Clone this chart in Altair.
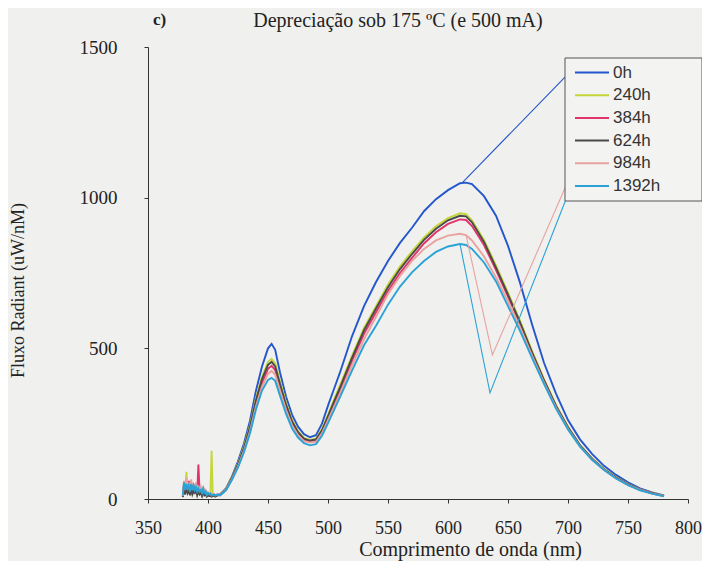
import altair as alt
import pandas as pd

SERIES = ["0h", "240h", "384h", "624h", "984h", "1392h"]
COLORS = ["#2456cc", "#c3d63a", "#e2336b", "#4a4a4a", "#e8a3a0", "#2aa2d6"]

# noisy start of the spectra (1 nm steps)
NOISE_WL = [379, 380, 381, 382, 383, 384, 385, 386, 387, 388, 389, 390, 391, 392, 393,
            394, 395, 396, 397, 398, 399, 400, 401, 402, 403, 404, 405, 406, 407, 408]
NOISE = {
    "0h":    [10, 50, 25, 60, 30, 45, 20, 55, 25, 40, 30, 45, 20, 35, 25, 30, 15, 35, 20, 25, 12, 20, 15, 18, 10, 12, 15, 10, 12, 15],
    "240h":  [8, 40, 20, 90, 25, 35, 15, 40, 20, 30, 25, 35, 15, 25, 20, 25, 12, 20, 15, 18, 10, 15, 12, 14, 160, 10, 12, 8, 10, 12],
    "384h":  [8, 45, 20, 50, 25, 60, 15, 45, 20, 35, 25, 40, 20, 114, 25, 30, 15, 30, 20, 25, 12, 18, 15, 16, 10, 12, 14, 10, 12, 14],
    "624h":  [6, 35, 15, 40, 20, 30, 12, 35, 15, 25, 20, 30, 12, 25, 15, 20, 10, 25, 12, 15, 8, 12, 10, 10, 8, 10, 12, 8, 10, 12],
    "984h":  [10, 60, 30, 70, 35, 55, 25, 65, 30, 50, 35, 55, 25, 45, 30, 40, 20, 40, 25, 30, 15, 22, 18, 20, 12, 15, 16, 12, 14, 16],
    "1392h": [12, 55, 30, 50, 35, 45, 25, 50, 30, 45, 30, 40, 25, 35, 25, 30, 20, 35, 20, 25, 15, 20, 15, 18, 12, 14, 15, 12, 14, 15],
}

MAIN_WL = [410, 415, 420, 425, 430, 435, 440, 445, 450, 453, 456, 460, 465, 470, 475, 480, 485,
           490, 495, 500, 505, 510, 520, 530, 540, 550, 560, 570, 580, 590, 600, 610, 615, 620,
           630, 640, 650, 660, 670, 680, 690, 700, 710, 720, 730, 740, 750, 760, 770, 780]
MAIN = {
    "0h":    [15, 35, 75, 125, 185, 260, 360, 440, 500, 515, 495, 420, 340, 280, 240, 215, 205, 212, 250, 310,
              365, 420, 540, 640, 720, 790, 850, 900, 955, 995, 1025, 1048, 1050, 1045, 1005, 940, 840, 718, 580, 452,
              350, 262, 198, 150, 110, 80, 55, 35, 22, 12],
    "240h":  [14, 33, 72, 118, 175, 245, 335, 405, 455, 465, 450, 390, 320, 262, 225, 203, 196, 200, 232, 280,
              330, 378, 475, 568, 640, 712, 772, 822, 868, 905, 932, 948, 945, 925, 860, 775, 685, 592, 492, 398,
              312, 240, 180, 135, 100, 72, 50, 32, 20, 11],
    "384h":  [13, 31, 68, 112, 165, 232, 318, 385, 432, 442, 428, 372, 305, 252, 218, 197, 192, 195, 224, 270,
              316, 362, 458, 548, 620, 690, 750, 800, 848, 885, 913, 928, 926, 906, 843, 760, 672, 582, 484, 392,
              307, 236, 177, 133, 98, 70, 48, 31, 19, 10],
    "624h":  [13, 32, 70, 115, 170, 240, 328, 398, 445, 455, 440, 382, 313, 258, 222, 200, 194, 198, 228, 275,
              323, 370, 468, 560, 632, 703, 763, 813, 860, 897, 925, 940, 938, 918, 853, 768, 678, 586, 487, 394,
              309, 238, 178, 134, 99, 71, 49, 31, 19, 10],
    "984h":  [12, 30, 66, 108, 160, 225, 308, 372, 415, 425, 412, 360, 296, 245, 212, 192, 187, 190, 218, 262,
              306, 350, 443, 530, 605, 680, 740, 790, 830, 858, 874, 880, 876, 858, 805, 735, 655, 570, 476, 386,
              303, 233, 175, 131, 97, 69, 47, 30, 18, 10],
    "1392h": [12, 29, 64, 105, 155, 218, 298, 360, 395, 402, 392, 343, 283, 235, 204, 185, 178, 182, 210, 252,
              295, 338, 426, 510, 575, 645, 705, 752, 790, 820, 838, 846, 843, 830, 785, 722, 640, 558, 468, 382,
              300, 231, 174, 130, 96, 68, 46, 29, 18, 9],
}

# stray segments running from the curves to the legend
SPUR_WL = {"0h": [612, 706], "984h": [615, 637, 704], "1392h": [610, 635, 703]}
SPUR_VAL = {"0h": [1050, 1435], "984h": [876, 478, 1092], "1392h": [846, 352, 1042]}

X_TICKS = [350, 400, 450, 500, 550, 600, 650, 700, 750, 800]
Y_TICKS = [0, 500, 1000, 1500]

rows = []
for s in SERIES:
    i = 0
    for w, v in zip(NOISE_WL + MAIN_WL, NOISE[s] + MAIN[s]):
        rows.append({"series": s, "wl": w, "val": v, "i": i})
        i += 1
df = pd.DataFrame(rows)

srows = []
for s in SPUR_WL:
    for k, (w, v) in enumerate(zip(SPUR_WL[s], SPUR_VAL[s])):
        srows.append({"series": s, "wl": w, "val": v, "i": k})
sdf = pd.DataFrame(srows)

SERIF = "Liberation Serif"
color_scale = alt.Scale(domain=SERIES, range=COLORS)

x_enc = alt.X("wl:Q", scale=alt.Scale(domain=[350, 800], nice=False),
              axis=alt.Axis(values=X_TICKS, title="Comprimento de onda (nm)", grid=False,
                            labelFont=SERIF, labelFontSize=18, labelColor="#222",
                            titleFont=SERIF, titleFontSize=20, titleFontWeight="normal",
                            titleColor="#222", titleX=322, titleY=40, titleBaseline="top",
                            domainColor="#333", tickColor="#333", tickSize=4,
                            labelPadding=16, labelFlush=False))
y_enc = alt.Y("val:Q", scale=alt.Scale(domain=[0, 1500], nice=False),
              axis=alt.Axis(values=Y_TICKS, format="d", title="Fluxo Radiant (uW/nM)", grid=False,
                            labelFont=SERIF, labelFontSize=19, labelColor="#222",
                            titleFont=SERIF, titleFontSize=18, titleFontWeight="normal",
                            titleColor="#222", titleX=-121, titleY=243,
                            domainColor="#333", tickColor="#333", tickSize=4,
                            labelPadding=27))

legend = alt.Legend(title=None, orient="none", legendX=418, legendY=9,
                    symbolType="stroke", symbolSize=1156, symbolStrokeWidth=2,
                    labelFont="Liberation Sans", labelFontSize=17, labelColor="#333",
                    labelOffset=3, padding=8, rowPadding=4.7, clipHeight=17)

curves = alt.Chart(df).mark_line(strokeWidth=1.9).encode(
    x=x_enc, y=y_enc,
    color=alt.Color("series:N", scale=color_scale, legend=legend),
    order="i:Q",
)

spurs = alt.Chart(sdf).mark_line(strokeWidth=1.1).encode(
    x="wl:Q", y="val:Q",
    color=alt.Color("series:N", scale=color_scale, legend=None),
    order="i:Q",
)

box = alt.Chart(pd.DataFrame({"a": [0]})).mark_rect(
    fill="#f3f3f2", stroke="#555", strokeWidth=1
).encode(x=alt.value(417), x2=alt.value(554), y=alt.value(11), y2=alt.value(154))

lbl = alt.Chart(pd.DataFrame({"t": ["c)"]})).mark_text(
    font=SERIF, fontSize=17, fontWeight="bold", align="left", baseline="alphabetic", color="#222"
).encode(text="t:N", x=alt.value(5), y=alt.value(-22))

ttl = alt.Chart(pd.DataFrame({"t": ["Depreciação sob 175 ºC (e 500 mA)"]})).mark_text(
    font=SERIF, fontSize=20, align="center", baseline="alphabetic", color="#222"
).encode(text="t:N", x=alt.value(250), y=alt.value(-20))

chart = alt.layer(curves, spurs, box, lbl, ttl).properties(
    width=540, height=452,
    autosize=alt.AutoSizeParams(type="none"),
    padding={"left": 140, "top": 39, "right": 14, "bottom": 62},
    background="#f0f0ee",
).configure_view(stroke=None)

chart.save("out.html", embed_options={"renderer": "svg", "actions": False})
